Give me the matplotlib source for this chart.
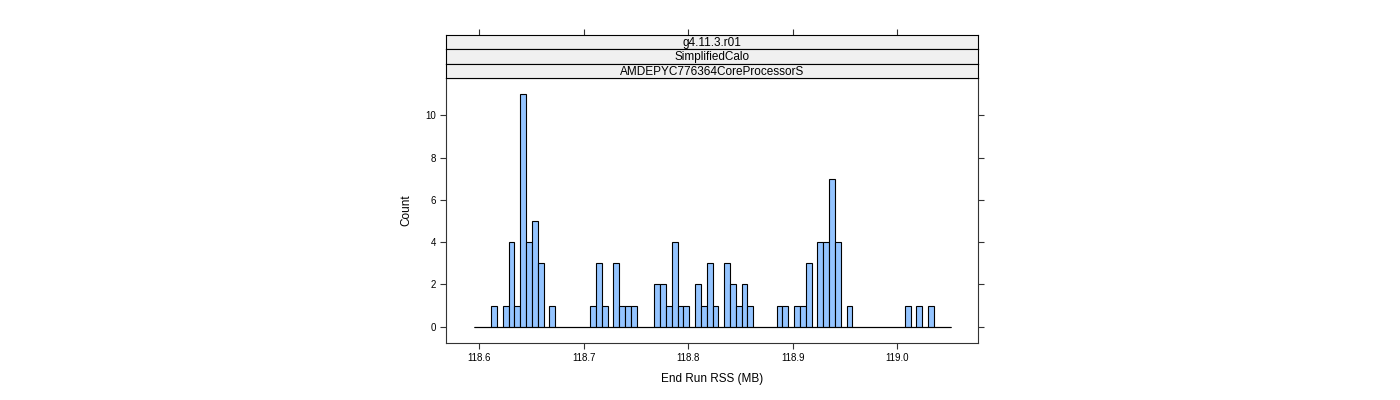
#!/usr/bin/env python
# lattice-style histogram of end-of-run memory

import numpy as np
import matplotlib
matplotlib.use('Agg')
import matplotlib.pyplot as plt

plt.rcParams['font.family'] = ['Liberation Sans', 'DejaVu Sans']

# histogram range (MB) and counts per bin
rss_lo = 118.5945
rss_hi = 119.052
bin_counts = [0, 0, 0, 1, 0, 1, 4, 1, 11, 4,
              5, 3, 0, 1, 0, 0, 0, 0, 0, 0,
              1, 3, 1, 0, 3, 1, 1, 1, 0, 0,
              0, 2, 2, 1, 4, 1, 1, 0, 2, 1,
              3, 1, 0, 3, 2, 1, 2, 1, 0, 0,
              0, 0, 1, 1, 0, 1, 1, 3, 0, 4,
              4, 7, 4, 0, 1, 0, 0, 0, 0, 0,
              0, 0, 0, 0, 1, 0, 1, 0, 1, 0,
              0, 0]
strip_labels = ['g4.11.3.r01', 'SimplifiedCalo', 'AMDEPYC776364CoreProcessorS']
x_ticks = [118.6, 118.7, 118.8, 118.9, 119.0]
y_ticks = [0, 2, 4, 6, 8, 10]

W, H = 1400, 400
frame_col = '#333333'
fill_col = '#94C4FF'

fig = plt.figure(figsize=(14, 4), dpi=100)

def box(x0, y0, x1, y1):
    return [x0 / W, 1 - y1 / H, (x1 - x0) / W, (y1 - y0) / H]

xlim = (118.568, 119.0775)

ax = fig.add_axes(box(446, 78, 978, 343))
edges = np.linspace(rss_lo, rss_hi, len(bin_counts) + 1)
# zero-count bins show as a flat outline in lattice
ax.hlines(0, rss_lo, rss_hi, color='black', linewidth=0.8)
ax.bar(edges[:-1], bin_counts, width=edges[1] - edges[0], align='edge',
       color=fill_col, edgecolor='black', linewidth=0.8)
ax.set_xlim(*xlim)
ax.set_ylim(-0.77, 11.77)
ax.set_xticks(x_ticks)
ax.set_xticklabels(['%.1f' % t for t in x_ticks])
ax.set_yticks(y_ticks)
ax.tick_params(axis='both', direction='out', length=4.3, width=0.8, color=frame_col,
               labelsize=7, pad=3)
ax.tick_params(axis='y', right=True, labelright=False)
for s in ax.spines.values():
    s.set_color(frame_col)
    s.set_linewidth(0.8)
ax.set_xlabel('End Run RSS (MB)', fontsize=8.5, labelpad=7)
ax.set_ylabel('Count', fontsize=8.5, labelpad=9)

# strips, top one first
strip_tops = [35, 49.3, 63.7, 78]
for i, lab in enumerate(strip_labels):
    sax = fig.add_axes(box(446, strip_tops[i], 978, strip_tops[i + 1]))
    sax.set_facecolor('#F0F0F0')
    sax.set_xlim(*xlim)
    sax.set_yticks([])
    if i == 0:
        sax.set_xticks(x_ticks)
        sax.tick_params(axis='x', top=True, bottom=False, labeltop=False, labelbottom=False,
                        direction='out', length=4.3, width=0.8, color=frame_col)
    else:
        sax.set_xticks([])
    for s in sax.spines.values():
        s.set_color('black')
        s.set_linewidth(0.8)
    sax.text(0.5, 0.45, lab, transform=sax.transAxes, ha='center', va='center', fontsize=8.5)

fig.savefig('out.png', dpi=100)
